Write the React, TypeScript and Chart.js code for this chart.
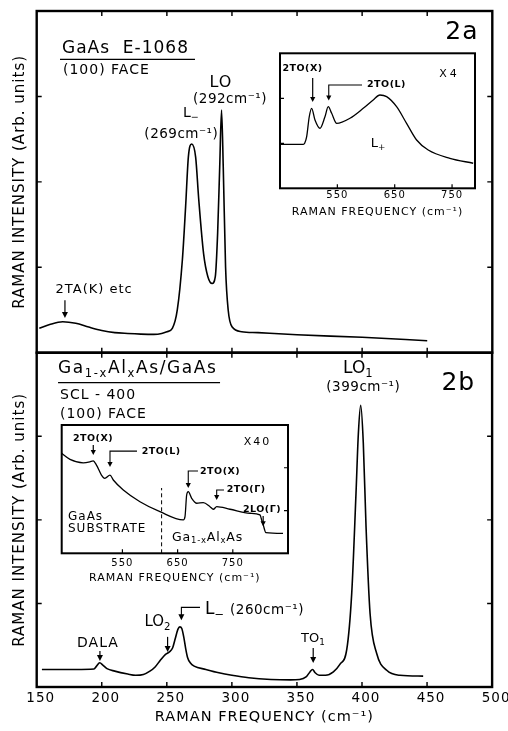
import React, { useEffect, useRef } from "react";
import { Chart, registerables } from "chart.js";

Chart.register(...registerables);

const WIDTH = 508;
const HEIGHT = 731;
const FONT = '"DejaVu Sans", "Liberation Sans", sans-serif';

// ---- 2a: GaAs E-1068, (100) face ----
const shiftA = [152, 160, 170, 180, 190, 200, 210, 220, 230, 240, 246, 250, 254.2, 258, 261.9, 264.4, 266.5, 269, 272.1, 274.5, 278.2, 281.5, 284.8, 287.2, 289, 290.6, 292, 293.3, 295.1, 297.1, 300.2, 307.5, 320, 350, 400, 450];
const intensityA = [0.285, 0.33, 0.363, 0.345, 0.3, 0.26, 0.235, 0.225, 0.218, 0.215, 0.225, 0.245, 0.285, 0.5, 1.085, 1.71, 2.29, 2.443, 2.29, 1.79, 1.16, 0.89, 0.81, 0.89, 1.4, 2.18, 2.84, 2.18, 1.0, 0.5, 0.3, 0.246, 0.235, 0.21, 0.18, 0.14];

// 2a inset (x4): second-order region
const shiftInsetA = [450, 470, 490.6, 493, 496.5, 501, 505.2, 511, 519.7, 528.4, 534.1, 540.1, 548.8, 572, 595.1, 612.5, 624.2, 635.9, 653.3, 670.7, 688.2, 708.4, 746.2, 786.8];
const intensityInsetA = [2.93, 2.93, 2.93, 3.0, 3.44, 4.77, 5.33, 4.55, 4.0, 4.77, 5.44, 5.0, 4.33, 4.67, 5.33, 5.89, 6.22, 6.11, 5.44, 4.33, 3.22, 2.55, 2.0, 1.67];

// ---- 2b: Ga(1-x)Al(x)As/GaAs, SCL-400 ----
const shiftB = [154, 165, 180, 194, 196, 198.4, 201, 204, 210, 220, 226, 232, 237, 241, 245, 249, 252, 254.5, 256.5, 258.5, 260, 261.5, 263, 264.5, 266, 268, 271, 280, 290, 300, 313, 330, 345, 352, 357, 360, 362, 364, 367, 372, 378, 383, 388.3, 392.1, 395.4, 397.2, 399, 401, 403.1, 406.2, 411.3, 419, 429.2, 447];
const intensityB = [0.21, 0.21, 0.21, 0.215, 0.25, 0.29, 0.26, 0.22, 0.19, 0.155, 0.14, 0.15, 0.19, 0.24, 0.32, 0.39, 0.42, 0.47, 0.58, 0.69, 0.72, 0.7, 0.6, 0.46, 0.35, 0.29, 0.25, 0.21, 0.17, 0.14, 0.11, 0.09, 0.085, 0.09, 0.12, 0.18, 0.21, 0.17, 0.14, 0.14, 0.18, 0.27, 0.45, 1.12, 2.32, 3.03, 3.37, 2.92, 1.92, 0.88, 0.4, 0.2, 0.14, 0.13];

// 2b inset (x40): substrate and alloy second-order bands
const shiftInsetB = [440, 455, 479, 491, 497, 503, 512, 518, 527.5, 533.5, 551.6, 581.8, 618, 660.3, 663.4, 666.4, 669.3, 675.5, 684.6, 696.5, 708.7, 714.7, 720.8, 744.9, 781.1, 799.2, 802.3, 805.2, 810, 841];
const intensityInsetB = [7.01, 6.59, 6.35, 6.42, 6.49, 6.19, 5.49, 5.26, 5.49, 5.14, 4.44, 3.62, 2.92, 2.34, 2.57, 4.09, 4.32, 3.86, 3.51, 3.55, 3.27, 3.09, 3.27, 3.09, 2.81, 2.69, 2.34, 1.98, 1.45, 1.4];

// axis ticks
const mainTickLabels = [150, 200, 250, 300, 350, 400, 450, 500];
const mainInnerTicks = [200, 250, 300, 350, 400, 450];
const intensityTicks = [1, 2, 3];
const insetTickLabels = [550, 650, 750];
const insetIntensityTicks = [3, 6];

type Seg = { t: string; sub?: boolean };
type Note =
  | { kind: "text"; x: number; y: number; segs: Seg[]; size: number; align?: "left" | "center"; bold?: boolean; spacing?: number }
  | { kind: "arrow"; x: number; from: number; to: number }
  | { kind: "bracket"; x: number; bar: number; to: number; x2: number }
  | { kind: "rule"; x1: number; x2: number; y: number }
  | { kind: "dash"; x: number; y1: number; y2: number };

const notesA: Note[] = [
  { kind: "text", x: 169.4, y: 3.555, segs: [{ t: "GaAs  E-1068" }], size: 17, align: "left" },
  { kind: "rule", x1: 167.9, x2: 271.6, y: 3.434 },
  { kind: "text", x: 170.2, y: 3.3, segs: [{ t: "(100) FACE" }], size: 14, align: "left" },
  { kind: "text", x: 476.7, y: 3.748, segs: [{ t: "2a" }], size: 25 },
  { kind: "text", x: 291.5, y: 3.163, segs: [{ t: "LO" }], size: 16 },
  { kind: "text", x: 298.5, y: 2.964, segs: [{ t: "(292cm⁻¹)" }], size: 13.5, spacing: 0.5 },
  { kind: "text", x: 268.5, y: 2.805, segs: [{ t: "L" }, { t: "−", sub: true }], size: 14, spacing: 0 },
  { kind: "text", x: 261.1, y: 2.56, segs: [{ t: "(269cm⁻¹)" }], size: 13.5, spacing: 0.5 },
  { kind: "text", x: 194.1, y: 0.734, segs: [{ t: "2TA(K) etc" }], size: 13 },
  { kind: "arrow", x: 171.7, from: 0.614, to: 0.406 },
];

const notesInsetA: Note[] = [
  { kind: "text", x: 489.2, y: 7.99, segs: [{ t: "2TO(X)" }], size: 9.5, bold: true, spacing: 0.5 },
  { kind: "arrow", x: 507, from: 7.35, to: 5.75 },
  { kind: "bracket", x: 535, bar: 6.89, to: 5.85, x2: 593 },
  { kind: "text", x: 601.7, y: 6.92, segs: [{ t: "2TO(L)" }], size: 9.5, bold: true, align: "left", spacing: 0.5 },
  { kind: "text", x: 745.6, y: 7.59, segs: [{ t: "X4" }], size: 11, spacing: 3 },
  { kind: "text", x: 620.9, y: 2.95, segs: [{ t: "L" }, { t: "+", sub: true }], size: 13, spacing: 0 },
];

const notesB: Note[] = [
  { kind: "text", x: 166.4, y: 3.805, segs: [{ t: "Ga" }, { t: "1-x", sub: true }, { t: "Al" }, { t: "x", sub: true }, { t: "As/GaAs" }], size: 17, align: "left", spacing: 1.6 },
  { kind: "rule", x1: 166.4, x2: 290.9, y: 3.641 },
  { kind: "text", x: 167.9, y: 3.488, segs: [{ t: "SCL - 400" }], size: 14, align: "left" },
  { kind: "text", x: 167.9, y: 3.266, segs: [{ t: "(100) FACE" }], size: 14, align: "left" },
  { kind: "text", x: 474.0, y: 3.637, segs: [{ t: "2b" }], size: 25 },
  { kind: "text", x: 396.8, y: 3.805, segs: [{ t: "LO" }, { t: "1", sub: true }], size: 17, spacing: 0 },
  { kind: "text", x: 401, y: 3.583, segs: [{ t: "(399cm⁻¹)" }], size: 13.5, spacing: 0.5 },
  { kind: "text", x: 197.1, y: 0.52, segs: [{ t: "DALA" }], size: 14 },
  { kind: "arrow", x: 198.6, from: 0.43, to: 0.31 },
  { kind: "text", x: 242.8, y: 0.772, segs: [{ t: "LO" }, { t: "2", sub: true }], size: 15, spacing: 0 },
  { kind: "arrow", x: 250.6, from: 0.6, to: 0.42 },
  { kind: "bracket", x: 261.2, bar: 0.953, to: 0.8, x2: 275.5 },
  { kind: "text", x: 279.3, y: 0.921, segs: [{ t: "L" }, { t: "−", sub: true }], size: 17, align: "left", spacing: 0 },
  { kind: "text", x: 298.6, y: 0.921, segs: [{ t: "(260cm⁻¹)" }], size: 13.5, align: "left", spacing: 0.5 },
  { kind: "text", x: 362.3, y: 0.574, segs: [{ t: "TO" }, { t: "1", sub: true }], size: 13, spacing: 0 },
  { kind: "arrow", x: 362.5, from: 0.467, to: 0.287 },
];

const notesInsetB: Note[] = [
  { kind: "text", x: 496.7, y: 8.08, segs: [{ t: "2TO(X)" }], size: 9.5, bold: true, spacing: 0.5 },
  { kind: "arrow", x: 497.2, from: 7.59, to: 6.89 },
  { kind: "bracket", x: 527.5, bar: 7.17, to: 6.05, x2: 576.4 },
  { kind: "text", x: 584.9, y: 7.12, segs: [{ t: "2TO(L)" }], size: 9.5, bold: true, align: "left", spacing: 0.5 },
  { kind: "text", x: 794.7, y: 7.83, segs: [{ t: "X40" }], size: 11, spacing: 2 },
  { kind: "bracket", x: 669.3, bar: 5.77, to: 4.58, x2: 686.9 },
  { kind: "text", x: 690.5, y: 5.72, segs: [{ t: "2TO(X)" }], size: 9.5, bold: true, align: "left", spacing: 0.5 },
  { kind: "bracket", x: 720.8, bar: 4.44, to: 3.74, x2: 734 },
  { kind: "text", x: 738.9, y: 4.44, segs: [{ t: "2TO(Γ)" }], size: 9.5, bold: true, align: "left", spacing: 0.5 },
  { kind: "text", x: 768.4, y: 3.04, segs: [{ t: "2LO(Γ)" }], size: 9.5, bold: true, align: "left", spacing: 0.5 },
  { kind: "arrow", x: 805, from: 2.62, to: 1.9 },
  { kind: "dash", x: 621, y1: 0, y2: 4.58 },
  { kind: "text", x: 451.4, y: 2.55, segs: [{ t: "GaAs" }], size: 12, align: "left" },
  { kind: "text", x: 451.4, y: 1.7, segs: [{ t: "SUBSTRATE" }], size: 12, align: "left" },
  { kind: "text", x: 639.8, y: 1.11, segs: [{ t: "Ga" }, { t: "1-x", sub: true }, { t: "Al" }, { t: "x", sub: true }, { t: "As" }], size: 12.5, align: "left", spacing: 0.8 },
];

function drawSegs(ctx: any, n: any, px: number, py: number) {
  const weight = n.bold ? "bold " : "";
  ctx.letterSpacing = `${n.spacing ?? 1}px`;
  const parts = n.segs.map((s: Seg) => {
    const fs = s.sub ? n.size * 0.68 : n.size;
    ctx.font = `${weight}${fs}px ${FONT}`;
    return { s, fs, w: ctx.measureText(s.t).width };
  });
  const total = parts.reduce((a: number, p: any) => a + p.w, 0);
  let cx = n.align === "left" ? px : px - total / 2;
  ctx.textAlign = "left";
  ctx.textBaseline = "middle";
  for (const p of parts) {
    ctx.font = `${weight}${p.fs}px ${FONT}`;
    ctx.fillText(p.s.t, cx, py + (p.s.sub ? n.size * 0.3 : 0));
    cx += p.w;
  }
}

function arrowHead(ctx: any, x: number, tipY: number, len: number, half: number) {
  ctx.beginPath();
  ctx.moveTo(x, tipY);
  ctx.lineTo(x - half, tipY - len);
  ctx.lineTo(x + half, tipY - len);
  ctx.closePath();
  ctx.fill();
}

// Text labels, arrows and brackets placed in data coordinates
function notesPlugin(notes: Note[], headLen: number, headHalf: number) {
  return {
    id: "notes",
    afterDatasetsDraw(chart: any) {
      const { ctx } = chart;
      const sx = chart.scales.x;
      const sy = chart.scales.y;
      const X = (v: number) => sx.getPixelForValue(v);
      const Y = (v: number) => sy.getPixelForValue(v);
      ctx.save();
      ctx.fillStyle = "#000";
      ctx.strokeStyle = "#000";
      for (const n of notes) {
        if (n.kind === "text") {
          drawSegs(ctx, n, X(n.x), Y(n.y));
        } else if (n.kind === "arrow") {
          const x = X(n.x);
          ctx.lineWidth = 1.2;
          ctx.beginPath();
          ctx.moveTo(x, Y(n.from));
          ctx.lineTo(x, Y(n.to) - headLen + 1);
          ctx.stroke();
          arrowHead(ctx, x, Y(n.to), headLen, headHalf);
        } else if (n.kind === "bracket") {
          const x = X(n.x);
          const yb = Y(n.bar);
          ctx.lineWidth = 1.1;
          ctx.beginPath();
          ctx.moveTo(X(n.x2), yb);
          ctx.lineTo(x, yb);
          ctx.lineTo(x, Y(n.to) - headLen + 1);
          ctx.stroke();
          arrowHead(ctx, x, Y(n.to), headLen, headHalf);
        } else if (n.kind === "rule") {
          ctx.lineWidth = 1.3;
          ctx.beginPath();
          ctx.moveTo(X(n.x1), Y(n.y));
          ctx.lineTo(X(n.x2), Y(n.y));
          ctx.stroke();
        } else if (n.kind === "dash") {
          ctx.lineWidth = 1;
          ctx.setLineDash([4, 3]);
          ctx.beginPath();
          ctx.moveTo(X(n.x), Y(n.y1));
          ctx.lineTo(X(n.x), Y(n.y2));
          ctx.stroke();
          ctx.setLineDash([]);
        }
      }
      ctx.restore();
    },
  };
}

// Box around the plot area with inward-pointing tick marks
function framePlugin(cfg: {
  width: number;
  tick: number;
  xTicks: number[];
  xSides: string[];
  yTicks: number[];
  ySides: string[];
  fill?: boolean;
}) {
  return {
    id: "frame",
    beforeDraw(chart: any) {
      chart.ctx.letterSpacing = "1px";
    },
    beforeDatasetsDraw(chart: any) {
      if (!cfg.fill) return;
      const { ctx, chartArea: a } = chart;
      ctx.save();
      ctx.fillStyle = "#fff";
      ctx.fillRect(a.left, a.top, a.right - a.left, a.bottom - a.top);
      ctx.restore();
    },
    afterDatasetsDraw(chart: any) {
      const { ctx, chartArea: a } = chart;
      const sx = chart.scales.x;
      const sy = chart.scales.y;
      ctx.save();
      ctx.strokeStyle = "#000";
      ctx.lineWidth = cfg.width;
      ctx.strokeRect(a.left, a.top, a.right - a.left, a.bottom - a.top);
      ctx.lineWidth = Math.max(1.2, cfg.width * 0.6);
      ctx.beginPath();
      for (const v of cfg.xTicks) {
        const x = sx.getPixelForValue(v);
        if (cfg.xSides.includes("bottom")) {
          ctx.moveTo(x, a.bottom);
          ctx.lineTo(x, a.bottom - cfg.tick);
        }
        if (cfg.xSides.includes("top")) {
          ctx.moveTo(x, a.top);
          ctx.lineTo(x, a.top + cfg.tick);
        }
      }
      for (const v of cfg.yTicks) {
        const y = sy.getPixelForValue(v);
        if (cfg.ySides.includes("left")) {
          ctx.moveTo(a.left, y);
          ctx.lineTo(a.left + cfg.tick, y);
        }
        if (cfg.ySides.includes("right")) {
          ctx.moveTo(a.right, y);
          ctx.lineTo(a.right - cfg.tick, y);
        }
      }
      ctx.stroke();
      ctx.restore();
    },
  };
}

function trace(xs: number[], ys: number[], width: number) {
  return {
    data: xs.map((x, i) => ({ x, y: ys[i] })),
    borderColor: "#000",
    borderWidth: width,
    pointRadius: 0,
    cubicInterpolationMode: "monotone",
    fill: false,
  };
}

function baseOptions(padding: any) {
  return {
    responsive: false,
    animation: false,
    devicePixelRatio: 1,
    events: [],
    layout: { padding, autoPadding: false },
    plugins: { legend: { display: false }, tooltip: { enabled: false } },
  };
}

const noGrid = { display: false, drawTicks: false };

const intensityTitle = (padTop: number) => ({
  display: true,
  text: "RAMAN INTENSITY (Arb. units)",
  color: "#000",
  font: { family: FONT, size: 15 },
  padding: { top: padTop, bottom: 0 },
});

const panelA = () => ({
  type: "line",
  data: { datasets: [trace(shiftA, intensityA, 1.6)] },
  options: {
    ...baseOptions({ left: 0, top: 11, right: 15.7, bottom: 378.3 }),
    scales: {
      x: { type: "linear", display: false, min: 150, max: 500 },
      y: {
        type: "linear",
        position: "left",
        min: 0,
        max: 4,
        grid: noGrid,
        border: { display: false },
        ticks: { display: false },
        title: intensityTitle(11),
        afterFit: (s: any) => {
          s.width = 36.7;
        },
      },
    },
  },
  plugins: [
    framePlugin({ width: 2.4, tick: 5, xTicks: mainInnerTicks, xSides: ["top", "bottom"], yTicks: intensityTicks, ySides: ["left", "right"] }),
    notesPlugin(notesA, 6, 3),
  ],
});

const panelB = () => ({
  type: "line",
  data: { datasets: [trace(shiftB, intensityB, 1.6)] },
  options: {
    ...baseOptions({ left: 0, top: 352.7, right: 15.7, bottom: 0 }),
    scales: {
      x: {
        type: "linear",
        min: 150,
        max: 500,
        afterBuildTicks: (s: any) => {
          s.ticks = mainTickLabels.map((value) => ({ value }));
        },
        ticks: { color: "#000", font: { family: FONT, size: 13.5 }, padding: 3, maxRotation: 0, autoSkip: false, labelOffset: 4 },
        grid: noGrid,
        border: { display: false },
        title: {
          display: true,
          text: "RAMAN FREQUENCY (cm⁻¹)",
          color: "#000",
          font: { family: FONT, size: 14.5 },
          padding: { top: 0, bottom: 4.6 },
        },
        afterFit: (s: any) => {
          s.height = 44;
        },
      },
      y: {
        type: "linear",
        position: "left",
        min: 0,
        max: 4,
        grid: noGrid,
        border: { display: false },
        ticks: { display: false },
        title: intensityTitle(11),
        afterFit: (s: any) => {
          s.width = 36.7;
        },
      },
    },
  },
  plugins: [
    framePlugin({ width: 2.4, tick: 5, xTicks: mainInnerTicks, xSides: ["top", "bottom"], yTicks: intensityTicks, ySides: ["left", "right"] }),
    notesPlugin(notesB, 6, 3),
  ],
});

function insetConfig(opts: {
  xs: number[];
  ys: number[];
  min: number;
  max: number;
  padding: any;
  labelPad: number;
  axisHeight: number;
  ySides: string[];
  notes: Note[];
}) {
  return () => ({
    type: "line",
    data: { datasets: [trace(opts.xs, opts.ys, 1.3)] },
    options: {
      ...baseOptions(opts.padding),
      scales: {
        x: {
          type: "linear",
          min: opts.min,
          max: opts.max,
          afterBuildTicks: (s: any) => {
            s.ticks = insetTickLabels.map((value) => ({ value }));
          },
          ticks: { color: "#000", font: { family: FONT, size: 10 }, padding: opts.labelPad, maxRotation: 0, autoSkip: false },
          grid: noGrid,
          border: { display: false },
          title: {
            display: true,
            text: "RAMAN FREQUENCY (cm⁻¹)",
            color: "#000",
            font: { family: FONT, size: 11 },
            padding: { top: 0, bottom: 0 },
          },
          afterFit: (s: any) => {
            s.height = opts.axisHeight;
          },
        },
        y: { type: "linear", display: false, min: 0, max: 9 },
      },
    },
    plugins: [
      framePlugin({ width: 2, tick: 4, xTicks: insetTickLabels, xSides: ["bottom"], yTicks: insetIntensityTicks, ySides: opts.ySides, fill: true }),
      notesPlugin(opts.notes, 5, 2.6),
    ],
  });
}

const insetA = insetConfig({
  xs: shiftInsetA,
  ys: intensityInsetA,
  min: 450,
  max: 790,
  padding: { left: 280, top: 53.3, right: 33, bottom: 512.7 },
  labelPad: 1,
  axisHeight: 30,
  ySides: ["left"],
  notes: notesInsetA,
});

const insetB = insetConfig({
  xs: shiftInsetB,
  ys: intensityInsetB,
  min: 440,
  max: 850,
  padding: { left: 61.7, top: 425, right: 220, bottom: 146.4 },
  labelPad: 4.5,
  axisHeight: 31.3,
  ySides: ["right"],
  notes: notesInsetB,
});

function ChartLayer({ config }: { config: () => any }) {
  const ref = useRef<HTMLCanvasElement | null>(null);
  useEffect(() => {
    if (!ref.current) return;
    const chart = new Chart(ref.current, config());
    return () => chart.destroy();
  }, [config]);
  return (
    <canvas
      ref={ref}
      width={WIDTH}
      height={HEIGHT}
      style={{ position: "absolute", left: 0, top: 0, width: WIDTH, height: HEIGHT }}
    />
  );
}

export default function App() {
  return (
    <div style={{ position: "absolute", left: 0, top: 0, width: WIDTH, height: HEIGHT, background: "#fff" }}>
      <ChartLayer config={panelA} />
      <ChartLayer config={panelB} />
      <ChartLayer config={insetA} />
      <ChartLayer config={insetB} />
    </div>
  );
}
